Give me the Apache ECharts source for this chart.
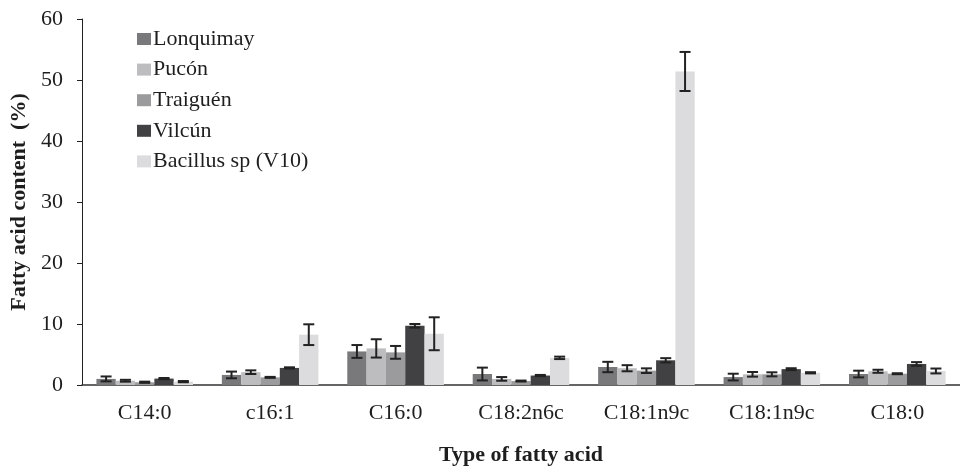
<!DOCTYPE html>
<html>
<head>
<meta charset="utf-8">
<script src="https://cdn.jsdelivr.net/npm/echarts@6/dist/echarts.min.js"></script>
<style>html,body{margin:0;padding:0;background:#fff}#c{width:960px;height:471px}</style>
</head>
<body>
<div id="c"></div>
<script>
const categories = ['C14:0', 'c16:1', 'C16:0', 'C18:2n6c', 'C18:1n9c', 'C18:1n9c', 'C18:0'];
const seriesNames = ['Lonquimay', 'Pucón', 'Traiguén', 'Vilcún', 'Bacillus sp (V10)'];
const lonquimay = [1.0, 1.65, 5.5, 1.8, 2.95, 1.3, 1.8];
const lonquimayErr = [0.4, 0.55, 1.05, 1.05, 0.85, 0.55, 0.55];
const pucon = [0.7, 2.1, 6.0, 1.0, 2.75, 1.75, 2.25];
const puconErr = [0.15, 0.3, 1.5, 0.3, 0.5, 0.38, 0.25];
const traiguen = [0.45, 1.25, 5.35, 0.65, 2.35, 1.75, 1.85];
const traiguenErr = [0.1, 0.08, 1.05, 0.08, 0.38, 0.33, 0.08];
const vilcun = [1.05, 2.8, 9.7, 1.55, 4.05, 2.6, 3.45];
const vilcunErr = [0.1, 0.1, 0.3, 0.1, 0.35, 0.15, 0.3];
const bacillus = [0.55, 8.25, 8.4, 4.45, 51.4, 2.0, 2.3];
const bacillusErr = [0.1, 1.7, 2.7, 0.2, 3.2, 0.1, 0.4];
const yTicks = [0, 10, 20, 30, 40, 50, 60];

const values = [lonquimay, pucon, traiguen, vilcun, bacillus];
const errors = [lonquimayErr, puconErr, traiguenErr, vilcunErr, bacillusErr];
const colors = ['#79797b', '#bdbdbf', '#9b9b9d', '#414143', '#dcdcde'];
const font = '"Liberation Serif", "Times New Roman", serif';
const catGap = 0.23;

const series = [];
values.forEach((v, i) => {
  series.push({
    name: seriesNames[i], type: 'bar', data: v,
    barGap: '0%', barCategoryGap: (catGap * 100) + '%',
    itemStyle: { color: colors[i] }, z: 2
  });
});
values.forEach((v, i) => {
  const data = v.map((val, k) => [k, val - errors[i][k], val + errors[i][k]]);
  series.push({
    type: 'custom', data: data, z: 5, silent: true,
    renderItem: function (params, api) {
      const k = api.value(0);
      const band = api.size([1, 0])[0];
      const bw = band * (1 - catGap) / 5;
      const lo = api.coord([k, api.value(1)]);
      const hi = api.coord([k, api.value(2)]);
      const x = lo[0] + (i - 2) * bw;
      const hw = 5.5;
      const st = { stroke: '#222', lineWidth: 2 };
      return {
        type: 'group', children: [
          { type: 'line', shape: { x1: x, y1: lo[1], x2: x, y2: hi[1] }, style: st },
          { type: 'line', shape: { x1: x - hw, y1: lo[1], x2: x + hw, y2: lo[1] }, style: st },
          { type: 'line', shape: { x1: x - hw, y1: hi[1], x2: x + hw, y2: hi[1] }, style: st }
        ]
      };
    }
  });
});

const chart = echarts.init(document.getElementById('c'), null, { renderer: 'canvas' });
chart.setOption({
  animation: false,
  backgroundColor: '#fff',
  textStyle: { fontFamily: font },
  legend: {
    data: seriesNames, orient: 'vertical', left: 137, top: 28, padding: 0,
    itemWidth: 14, itemHeight: 12, itemGap: 8.6, icon: 'rect',
    textStyle: { fontFamily: font, fontSize: 22, color: '#1e1e1e', padding: [0, 0, 0, -3] }
  },
  grid: { left: 82, top: 19, width: 886, height: 369, containLabel: false },
  xAxis: {
    type: 'category', data: categories,
    name: 'Type of fatty acid', nameLocation: 'middle', nameGap: 59,
    nameTextStyle: { fontFamily: font, fontSize: 22, fontWeight: 'bold', color: '#1e1e1e' },
    axisLine: { lineStyle: { color: '#333', width: 1.6 } },
    axisTick: { show: false },
    axisLabel: { fontFamily: font, fontSize: 22, color: '#1e1e1e', margin: 17 }
  },
  yAxis: {
    type: 'value', min: 0, max: 60, interval: 10,
    name: 'Fatty acid content  (%)', nameLocation: 'middle', nameGap: 47, nameRotate: 90,
    nameTextStyle: { fontFamily: font, fontSize: 22, fontWeight: 'bold', color: '#1e1e1e' },
    axisLine: { show: true, lineStyle: { color: '#222', width: 1 } },
    axisTick: { show: true, length: 5, lineStyle: { color: '#222' } },
    splitLine: { show: false },
    axisLabel: {
      fontFamily: font, fontSize: 22, color: '#1e1e1e', margin: 19,
      formatter: function (v) { return yTicks.indexOf(v) >= 0 ? String(v) : ''; }
    }
  },
  series: series
});
</script>
</body>
</html>
